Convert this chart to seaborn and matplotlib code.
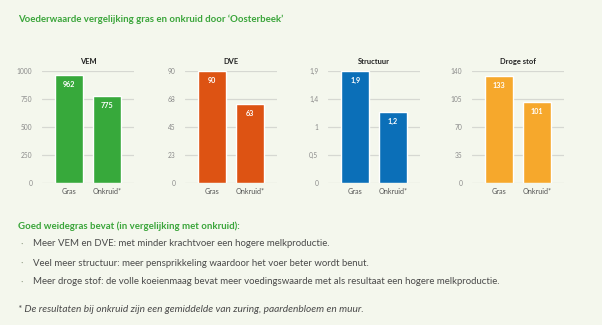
import numpy as np
import pandas as pd
import matplotlib
matplotlib.use("Agg")
import matplotlib.pyplot as plt
import seaborn as sns

sns.set_theme(style="white")
plt.rcParams["font.family"] = ["Lato", "DejaVu Sans"]

BG = "#f4f7ed"
TITLE_GREEN = "#3aa53a"
TEXT = "#4a4a4a"

# Feed values: good pasture grass vs. weeds (average)
categories = ["Gras", "Onkruid*"]
panel_titles = ["VEM", "DVE", "Structuur", "Droge stof"]
vem = [962, 775]
dve = [90, 63]
structuur = [1.9, 1.2]
droge_stof = [133, 101]
y_max = [1000, 90, 1.9, 140]
tick_labels = [
    ["0", "250", "500", "750", "1000"],
    ["0", "23", "45", "68", "90"],
    ["0", "0,5", "1", "1,4", "1,9"],
    ["0", "35", "70", "105", "140"],
]
bar_colors = ["#37a93b", "#dd5313", "#0b6fb8", "#f6a82c"]
series = [vem, dve, structuur, droge_stof]

fig = plt.figure(figsize=(6.02, 3.25), dpi=100, facecolor=BG)
W, H = 602, 325


def fx(px):
    return px / W


def fy(py):
    return 1 - py / H


ax_lefts = [42, 185, 328, 472]
ax_w = 92
ax_top, ax_bot = 70.7, 182.7

for i, (left, vals) in enumerate(zip(ax_lefts, series)):
    ax = fig.add_axes([fx(left), fy(ax_bot), fx(ax_w), (ax_bot - ax_top) / H])
    ax.set_facecolor(BG)
    df = pd.DataFrame({"cat": categories, "val": vals})
    ticks = np.linspace(0, y_max[i], 5)
    for t in ticks:
        ax.axhline(t, color="#d6d8d2", lw=0.9, zorder=0)
    sns.barplot(data=df, x="cat", y="val", color=bar_colors[i], saturation=1,
                width=0.75, ax=ax, zorder=2)
    ax.set_xlim(-0.72, 1.72)
    ax.set_ylim(0, y_max[i])
    ax.set_yticks(ticks)
    ax.set_yticklabels(tick_labels[i], fontsize=4.8, color="#8a8a8a")
    ax.tick_params(axis="y", length=0, pad=7)
    ax.tick_params(axis="x", length=0, pad=3.8, labelsize=5.2, labelcolor="#555555")
    ax.set_xlabel("")
    ax.set_ylabel("")
    for s in ax.spines.values():
        s.set_visible(False)
    ax.set_title(panel_titles[i], fontsize=5.4, fontweight="bold", color="#222222", pad=4.5)
    for j, v in enumerate(vals):
        lab = f"{v:g}".replace(".", ",")
        off = y_max[i] * 0.085
        ax.text(j, v - off, lab, ha="center", va="center", color="white",
                fontsize=5.2, fontweight="bold", zorder=3)

fig.text(fx(18), fy(19), "Voederwaarde vergelijking gras en onkruid door \u2018Oosterbeek\u2019",
         fontsize=6.9, color=TITLE_GREEN, fontweight="bold", va="center", ha="left")

fig.text(fx(18), fy(226), "Goed weidegras bevat (in vergelijking met onkruid):",
         fontsize=6.9, color=TITLE_GREEN, fontweight="bold", va="center", ha="left")

bullets = [
    "Meer VEM en DVE: met minder krachtvoer een hogere melkproductie.",
    "Veel meer structuur: meer pensprikkeling waardoor het voer beter wordt benut.",
    "Meer droge stof: de volle koeienmaag bevat meer voedingswaarde met als resultaat een hogere melkproductie.",
]
for k, b in enumerate(bullets):
    yy = [244, 263, 282][k]
    fig.text(fx(20), fy(yy), "\u00b7", fontsize=7, color="#9aa58f", va="center", ha="left")
    fig.text(fx(33), fy(yy), b, fontsize=6.95, color=TEXT, va="center", ha="left")

fig.text(fx(18), fy(310), "* De resultaten bij onkruid zijn een gemiddelde van zuring, paardenbloem en muur.",
         fontsize=7.3, color=TEXT, style="italic", va="center", ha="left")

fig.savefig("out.png", dpi=100, facecolor=BG)
